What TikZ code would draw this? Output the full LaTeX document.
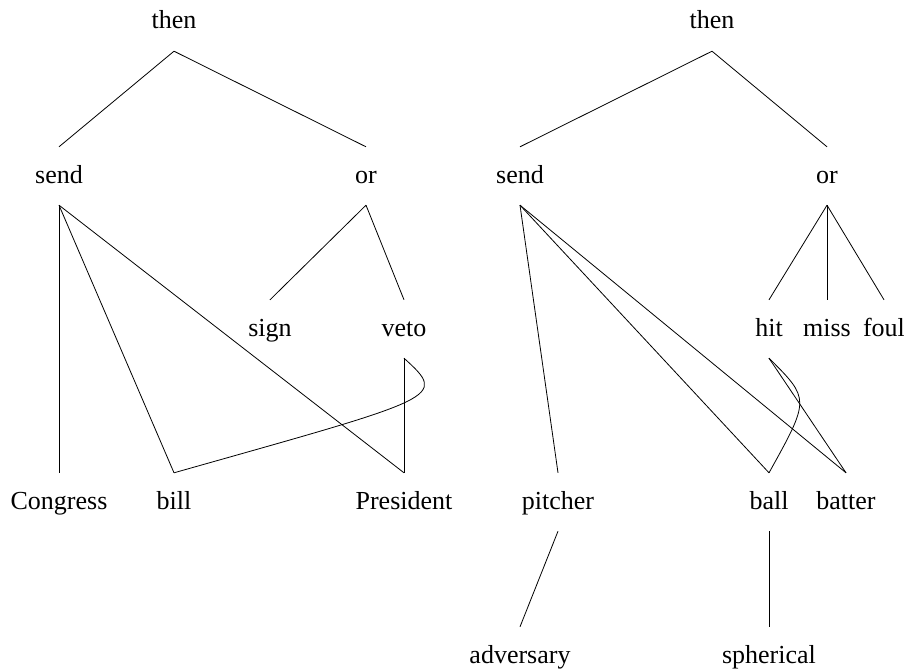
\documentclass[tikz,border=0pt]{standalone}
\usepackage{fontspec}
\setmainfont{Liberation Serif}
\begin{document}
\begin{tikzpicture}[x=1pt,y=-1pt,
  word/.style={anchor=base,inner sep=0pt,text height=36pt,text depth=22pt,
    font=\fontsize{26}{30}\selectfont},
  link/.style={line width=0.8pt}]
\useasboundingbox (0,0) rectangle (904,669);

% first tree
\node[word] (t1)  at (174,29)  {then};
\node[word] (s1)  at (59,183)  {send};
\node[word] (o1)  at (366,183) {or};
\node[word] (sg)  at (270,336) {sign};
\node[word] (vt)  at (404,336) {veto};
\node[word] (cg)  at (59,509)  {Congress};
\node[word] (bl)  at (174,509) {bill};
\node[word] (pr)  at (404,509) {President};

\draw[link] (t1.south) -- (s1.north);
\draw[link] (t1.south) -- (o1.north);
\draw[link] (o1.south) -- (sg.north);
\draw[link] (o1.south) -- (vt.north);
\draw[link] (s1.south) -- (cg.north);
\draw[link] (s1.south) -- (bl.north);
\draw[link] (s1.south) -- (pr.north);
\draw[link] (vt.south) -- (pr.north);
\draw[link] (vt.south) .. controls (448,398) and (442,397) .. (bl.north);

% second tree
\node[word] (t2)  at (712,29)  {then};
\node[word] (s2)  at (520,183) {send};
\node[word] (o2)  at (827,183) {or};
\node[word] (ht)  at (769,336) {hit};
\node[word] (ms)  at (827,336) {miss};
\node[word] (fl)  at (884,336) {foul};
\node[word] (pt)  at (558,509) {pitcher};
\node[word] (ba)  at (769,509) {ball};
\node[word] (bt)  at (846,509) {batter};
\node[word] (ad)  at (520,663) {adversary};
\node[word] (sp)  at (769,663) {spherical};

\draw[link] (t2.south) -- (s2.north);
\draw[link] (t2.south) -- (o2.north);
\draw[link] (o2.south) -- (ht.north);
\draw[link] (o2.south) -- (ms.north);
\draw[link] (o2.south) -- (fl.north);
\draw[link] (s2.south) -- (pt.north);
\draw[link] (s2.south) -- (ba.north);
\draw[link] (s2.south) -- (bt.north);
\draw[link] (ht.south) -- (bt.north);
\draw[link] (ht.south) .. controls (810,399) and (810,399) .. (ba.north);
\draw[link] (pt.south) -- (ad.north);
\draw[link] (ba.south) -- (sp.north);
\end{tikzpicture}
\end{document}
